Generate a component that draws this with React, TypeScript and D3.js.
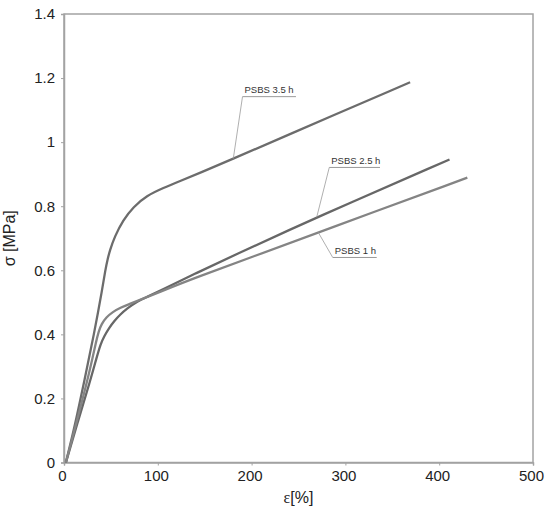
import React, { useEffect, useRef } from "react";
import * as d3 from "d3";

// ---- data ----
const strain35 = [2, 12, 22, 32, 41, 44, 46.5, 49, 54, 63, 74, 88, 106, 124, 145, 180, 225, 369];
const stress35 = [0, 0.12, 0.26, 0.4, 0.544, 0.6, 0.635, 0.663, 0.705, 0.757, 0.798, 0.833, 0.857, 0.879, 0.904, 0.948, 1.005, 1.187];

const strain25 = [2, 15, 28, 35, 39, 43, 48, 54, 60, 67, 78, 90, 100, 140, 177, 269, 411];
const stress25 = [0, 0.13, 0.255, 0.33, 0.37, 0.395, 0.42, 0.443, 0.462, 0.48, 0.503, 0.519, 0.533, 0.59, 0.641, 0.765, 0.946];

const strain1 = [2, 12, 24, 30, 34, 37, 40, 45, 52, 60, 70, 78, 100, 140, 202, 271, 430];
const stress1 = [0, 0.11, 0.245, 0.32, 0.375, 0.41, 0.432, 0.453, 0.47, 0.483, 0.495, 0.504, 0.53, 0.577, 0.643, 0.718, 0.889];

const seriesNames = ["PSBS 3.5 h", "PSBS 2.5 h", "PSBS 1 h"];
const seriesColors = ["#6c6c6c", "#676767", "#848484"];

const xTicks = [0, 100, 200, 300, 400, 500];
const yTicks = [0, 0.2, 0.4, 0.6, 0.8, 1, 1.2, 1.4];

// annotation: anchor strain on curve, label strain (left of underline), label stress, underline right strain
const labelAnchorX = [180.5, 269.4, 271.1];
const labelX = [190.3, 282.8, 286.5];
const labelY = [1.142, 0.921, 0.64];
const labelEndX = [247.3, 336.9, 333.4];

const W = 550;
const H = 514;
const M = { left: 64, right: 17, top: 14, bottom: 51.5 };

function interp(xs: number[], ys: number[], x: number) {
  for (let i = 1; i < xs.length; i++) {
    if (x <= xs[i]) {
      const t = (x - xs[i - 1]) / (xs[i] - xs[i - 1]);
      return ys[i - 1] + t * (ys[i] - ys[i - 1]);
    }
  }
  return ys[ys.length - 1];
}

export default function App() {
  const ref = useRef<SVGSVGElement | null>(null);

  useEffect(() => {
    const svg = d3.select(ref.current);
    svg.selectAll("*").remove();

    const x = d3.scaleLinear().domain([0, 500]).range([M.left, W - M.right]);
    const y = d3.scaleLinear().domain([0, 1.4]).range([H - M.bottom, M.top]);

    const font = "'Liberation Sans', Arial, sans-serif";
    const axisGrey = "#a3a3a3";

    // frame
    svg
      .append("rect")
      .attr("x", x(0))
      .attr("y", y(1.4))
      .attr("width", x(500) - x(0))
      .attr("height", y(0) - y(1.4))
      .attr("fill", "none")
      .attr("stroke", axisGrey)
      .attr("stroke-width", 1.5);

    // axes
    const gx = svg
      .append("g")
      .attr("transform", `translate(0,${y(0)})`)
      .call(d3.axisBottom(x).tickValues(xTicks).tickSize(3).tickPadding(5).tickFormat((d) => String(d)));
    const gy = svg
      .append("g")
      .attr("transform", `translate(${x(0)},0)`)
      .call(d3.axisLeft(y).tickValues(yTicks).tickSize(3).tickPadding(6).tickFormat((d) => String(d)));

    [gx, gy].forEach((g) => {
      g.select(".domain").attr("stroke", axisGrey).attr("stroke-width", 1.5);
      g.selectAll(".tick line").attr("stroke", axisGrey).attr("stroke-width", 1);
      g.selectAll(".tick text").attr("fill", "#222").style("font-family", font).style("font-size", "15px");
    });
    gx.selectAll(".tick text").attr("dx", "-2");

    // curves
    const sx = [strain35, strain25, strain1];
    const sy = [stress35, stress25, stress1];
    const line = d3
      .line<[number, number]>()
      .x((d) => x(d[0]))
      .y((d) => y(d[1]))
      .curve(d3.curveBasis);

    sx.forEach((xs, i) => {
      const pts: [number, number][] = xs.map((v, j) => [v, sy[i][j]]);
      svg
        .append("path")
        .attr("d", line(pts))
        .attr("fill", "none")
        .attr("stroke", seriesColors[i])
        .attr("stroke-width", 2.3)
        .attr("stroke-linejoin", "round");
    });

    // annotations
    seriesNames.forEach((name, i) => {
      const ax = labelAnchorX[i];
      const ay = interp(sx[i], sy[i], ax);
      const lx = x(labelX[i]);
      const ly = y(labelY[i]);
      svg
        .append("line")
        .attr("x1", lx)
        .attr("y1", ly)
        .attr("x2", x(ax))
        .attr("y2", y(ay))
        .attr("stroke", "#9a9a9a")
        .attr("stroke-width", 0.8);
      svg
        .append("line")
        .attr("x1", lx)
        .attr("y1", ly)
        .attr("x2", x(labelEndX[i]))
        .attr("y2", ly)
        .attr("stroke", "#9a9a9a")
        .attr("stroke-width", 1);
      svg
        .append("text")
        .attr("x", lx + 2)
        .attr("y", ly - 3.5)
        .attr("fill", "#333")
        .style("font-family", font)
        .style("font-size", "9.5px")
        .text(name);
    });

    // axis titles
    svg
      .append("text")
      .attr("transform", `translate(15,${(y(0) + y(1.4)) / 2}) rotate(-90)`)
      .attr("text-anchor", "middle")
      .attr("fill", "#222")
      .style("font-family", font)
      .style("font-size", "16px")
      .text("σ [MPa]");

    const xt = svg
      .append("text")
      .attr("x", (x(0) + x(500)) / 2)
      .attr("y", 503)
      .attr("text-anchor", "middle")
      .attr("fill", "#222")
      .style("font-family", font)
      .style("font-size", "16px");
    xt.append("tspan").style("font-family", "'Liberation Serif', 'DejaVu Serif', serif").text("ε");
    xt.append("tspan").text("[%]");
  }, []);

  return (
    <svg
      ref={ref}
      width={W}
      height={H}
      style={{ position: "absolute", left: 0, top: 0, background: "#fff" }}
    />
  );
}
